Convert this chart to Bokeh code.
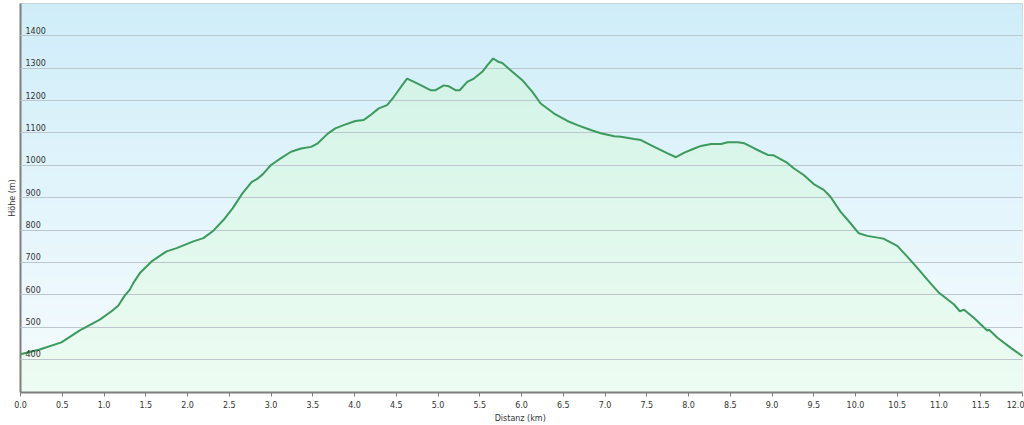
import numpy as np
from bokeh.plotting import figure
from bokeh.models import FixedTicker, PrintfTickFormatter, Range1d, ColumnDataSource
from bokeh.embed import file_html
from bokeh.resources import INLINE
from bokeh.core.properties import value

# ---- data ----
distance_km = [0.00, 0.23, 0.49, 0.71, 0.95, 1.09, 1.17, 1.25, 1.31, 1.35, 1.43, 1.57, 1.69, 1.75,
               1.87, 2.07, 2.19, 2.31, 2.43, 2.54, 2.66, 2.77, 2.83, 2.90, 3.00, 3.12, 3.24, 3.36,
               3.48, 3.56, 3.68, 3.77, 3.87, 4.01, 4.11, 4.19, 4.29, 4.39, 4.47, 4.57, 4.63, 4.75,
               4.91, 4.97, 5.07, 5.13, 5.21, 5.26, 5.35, 5.43, 5.53, 5.59, 5.66, 5.73, 5.77, 5.89,
               6.01, 6.13, 6.23, 6.39, 6.55, 6.67, 6.83, 6.95, 7.11, 7.19, 7.35, 7.43, 7.59, 7.75,
               7.85, 7.95, 8.07, 8.15, 8.27, 8.39, 8.47, 8.59, 8.67, 8.79, 8.95, 9.02, 9.18, 9.26,
               9.38, 9.50, 9.62, 9.70, 9.82, 9.94, 10.04, 10.14, 10.30, 10.34, 10.50, 10.62, 10.74,
               10.86, 11.00, 11.18, 11.25, 11.30, 11.42, 11.58, 11.60, 11.70, 11.86, 12.00]
elevation_m = [416, 431, 453, 490, 523, 549, 566, 598, 616, 636, 667, 703, 724, 734,
               744, 765, 775, 798, 831, 867, 914, 949, 957, 972, 1001, 1022, 1042, 1052,
               1057, 1068, 1098, 1114, 1124, 1137, 1140, 1155, 1176, 1186, 1211, 1247, 1268, 1253,
               1232, 1232, 1247, 1244, 1232, 1232, 1258, 1268, 1289, 1309, 1330, 1319, 1316, 1289,
               1263, 1227, 1191, 1160, 1137, 1124, 1109, 1099, 1090, 1088, 1081, 1078, 1057, 1037,
               1025, 1039, 1052, 1060, 1066, 1066, 1071, 1071, 1068, 1052, 1032, 1031, 1008, 991,
               970, 942, 924, 903, 857, 821, 790, 782, 775, 773, 751, 718, 683,
               647, 606, 570, 549, 554, 528, 489, 492, 467, 436, 410]
y_ticks = [400, 500, 600, 700, 800, 900, 1000, 1100, 1200, 1300, 1400]
x_ticks = [0.0, 0.5, 1.0, 1.5, 2.0, 2.5, 3.0, 3.5, 4.0, 4.5, 5.0, 5.5, 6.0, 6.5, 7.0, 7.5,
           8.0, 8.5, 9.0, 9.5, 10.0, 10.5, 11.0, 11.5, 12.0]
x_title = "Distanz  (km)"
y_title = "Höhe (m)"

X0, X1 = 0.0, 12.0
Y0, Y1 = 298, 1500
FONT = "DejaVu Sans"

p = figure(width=1024, height=425, output_backend="svg", toolbar_location=None,
           x_range=Range1d(X0, X1), y_range=Range1d(Y0, Y1),
           min_border_left=20, min_border_right=2, min_border_top=3, min_border_bottom=32)
p.background_fill_color = "white"
p.border_fill_color = "white"
p.outline_line_color = "#c8cdd0"
p.outline_line_width = 1


def mix(c0, c1, t):
    return "#%02x%02x%02x" % tuple(int(round(a + (b - a) * t)) for a, b in zip(c0, c1))


# background vertical gradient (light blue -> near white)
n = 60
edges = np.linspace(Y0, Y1, n + 1)
bg_top, bg_bot = (207, 237, 249), (247, 252, 254)
for i in range(n, 0, -1):
    t = (edges[i] - Y0) / (Y1 - Y0)
    p.quad(left=X0, right=X1, bottom=Y0, top=edges[i], fill_color=mix(bg_bot, bg_top, t),
           line_color=None)

# green gradient fill under the profile
x = np.array(distance_km)
y = np.array(elevation_m, dtype=float)
g_top, g_bot = (206, 242, 228), (238, 252, 243)
for i in range(n, 0, -1):
    t = (edges[i] - Y0) / (Y1 - Y0)
    p.varea(x=x, y1=Y0, y2=np.clip(y, Y0, edges[i]), fill_color=mix(g_bot, g_top, t))

# profile line
p.line(distance_km, elevation_m, line_color="#3b9a5c", line_width=2, level="overlay")

# grid
p.xgrid.visible = False
p.ygrid.ticker = FixedTicker(ticks=y_ticks)
p.ygrid.grid_line_color = "#bcc6cc"
p.ygrid.grid_line_width = 1
p.ygrid.level = "annotation"

# y tick labels drawn inside the plot
lab = ColumnDataSource(dict(x=[X0] * len(y_ticks), y=y_ticks, t=[str(v) for v in y_ticks]))
p.text(x="x", y="y", text="t", source=lab, x_offset=5, y_offset=-2,
       text_font=value(FONT), text_font_size="8px", text_color="#333333",
       text_baseline="bottom", text_align="left", level="overlay")

# y axis (line + title only)
ya = p.yaxis[0]
ya.ticker = FixedTicker(ticks=y_ticks)
ya.axis_label = y_title
ya.axis_label_text_font = FONT
ya.axis_label_text_font_size = "8px"
ya.axis_label_text_font_style = "normal"
ya.axis_label_text_color = "#333333"
ya.axis_label_standoff = 4
ya.major_label_text_font_size = "1px"
ya.major_label_text_color = None
ya.major_label_standoff = 0
ya.major_tick_out = 0
ya.major_tick_in = 0
ya.minor_tick_line_color = None
ya.axis_line_color = "#7f7f7f"
ya.axis_line_width = 2

# x axis
xa = p.xaxis[0]
xa.ticker = FixedTicker(ticks=x_ticks)
xa.formatter = PrintfTickFormatter(format="%.1f")
xa.axis_label = x_title
xa.axis_label_text_font = FONT
xa.axis_label_text_font_size = "8px"
xa.axis_label_text_font_style = "normal"
xa.axis_label_text_color = "#333333"
xa.axis_label_standoff = 3
xa.major_label_text_font = FONT
xa.major_label_text_font_size = "8px"
xa.major_label_text_color = "#333333"
xa.major_label_standoff = 4
xa.major_tick_out = 4
xa.major_tick_in = 0
xa.major_tick_line_color = "#7f7f7f"
xa.minor_tick_line_color = None
xa.axis_line_color = "#7f7f7f"
xa.axis_line_width = 2

open("out.html", "w").write(file_html(p, INLINE))
